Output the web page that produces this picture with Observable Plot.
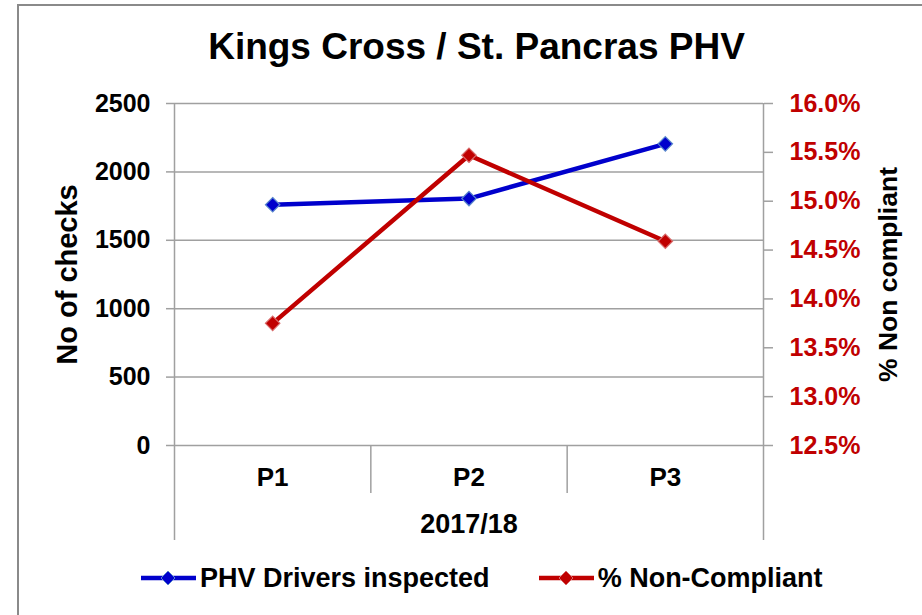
<!DOCTYPE html>
<html>
<head>
<meta charset="utf-8">
<script src="https://cdn.jsdelivr.net/npm/d3@7"></script>
<script src="https://cdn.jsdelivr.net/npm/@observablehq/plot@0.6"></script>
<style>
  html, body { margin: 0; padding: 0; background: #fff; }
  body { font-family: "Liberation Sans", Arial, sans-serif; }
  #wrap { position: relative; width: 922px; height: 615px; overflow: hidden; background: #fff; }
  #frame { position: absolute; left: 17px; top: 4px; width: 1000px; height: 700px;
           border-top: 2px solid #8a8a8a; border-left: 2px solid #8a8a8a; }
  #title { position: absolute; left: 0; width: 953px; top: 22px; text-align: center;
           font-weight: bold; font-size: 37px; line-height: 50px; color: #000; }
  #chart { position: absolute; left: 0; top: 80px; }
  #legend { position: absolute; left: 141px; top: 562px; display: flex; align-items: center; gap: 49px;
            font-weight: bold; font-size: 27px; line-height: 32px; color: #000; }
  #legend .item { display: flex; align-items: center; }
  #legend svg { margin-right: 4px; }
</style>
</head>
<body>
<div id="wrap">
  <div id="frame"></div>
  <div id="title"></div>
  <div id="chart"></div>
  <div id="legend"></div>
</div>
<script>
// ---- data ----
const titleText = "Kings Cross / St. Pancras PHV";
const categories = ["P1", "P2", "P3"];
const groupLabel = "2017/18";
const driversInspected = [1760, 1805, 2205];
const pctNonCompliant = [13.75, 15.47, 14.59];
const leftTicks = [0, 500, 1000, 1500, 2000, 2500];
const rightTicks = [12.5, 13.0, 13.5, 14.0, 14.5, 15.0, 15.5, 16.0];
const leftAxisTitle = "No of checks";
const rightAxisTitle = "% Non compliant";
const seriesNames = ["PHV Drivers inspected", "% Non-Compliant"];
const seriesColors = ["#0000cc", "#c00000"];
const markerEdge = ["#5a88cc", "#d86a6a"];

// ---- derived ----
const yMax = leftTicks[leftTicks.length - 1];
const pLo = rightTicks[0], pHi = rightTicks[rightTicks.length - 1];
const pToY = p => (p - pLo) / (pHi - pLo) * yMax;
const yToP = y => y / yMax * (pHi - pLo) + pLo;
const rows = categories.map((c, i) => ({c, i, drivers: driversInspected[i], pct: pctNonCompliant[i]}));
const bounds = d3.range(0, categories.length + 1);
const inner = bounds.slice(1, -1);
const outer = [bounds[0], bounds[bounds.length - 1]];
const gray = "#a0a0a0";

document.getElementById("title").textContent = titleText;

const chart = Plot.plot({
  width: 922,
  height: 465,
  marginTop: 23,
  marginBottom: 100,
  marginLeft: 174,
  marginRight: 159,
  style: {fontFamily: "'Liberation Sans', Arial, sans-serif", fontWeight: "bold", background: "transparent", overflow: "visible", color: "#000"},
  x: {type: "linear", domain: [bounds[0], bounds[bounds.length - 1]]},
  y: {domain: [0, yMax]},
  marks: [
    Plot.gridY(leftTicks, {stroke: gray, strokeOpacity: 1, strokeWidth: 1.5}),
    Plot.ruleX(outer, {stroke: gray, strokeWidth: 1.5, insetBottom: -95}),
    Plot.axisX(inner, {anchor: "bottom", tickSize: 48, tickFormat: () => "", stroke: gray, strokeWidth: 1.5, label: null}),
    Plot.axisX(categories.map((_, i) => i + 0.5), {anchor: "bottom", tickSize: 0, tickPadding: 22, fontSize: 26,
      tickFormat: d => categories[Math.floor(d)], fill: "#000", label: null}),
    Plot.axisY(leftTicks, {anchor: "left", tickSize: 8, tickPadding: 16, fontSize: 25, stroke: gray, strokeWidth: 1.5,
      fill: "#000", tickFormat: d => String(d), label: null}),
    Plot.axisY(rightTicks.map(pToY), {anchor: "right", tickSize: 9, tickPadding: 17, fontSize: 25, stroke: gray, strokeWidth: 1.5,
      fill: "#c00000", tickFormat: d => yToP(d).toFixed(1) + "%", label: null}),
    Plot.text([groupLabel], {frameAnchor: "bottom", lineAnchor: "middle", dy: 79, fontSize: 27, fill: "#000"}),
    Plot.text([leftAxisTitle], {frameAnchor: "left", textAnchor: "middle", dx: -107, rotate: -90, fontSize: 29, fill: "#000"}),
    Plot.text([rightAxisTitle], {frameAnchor: "right", textAnchor: "middle", dx: 125, rotate: -90, fontSize: 26.5, fill: "#000"}),
    Plot.line(rows, {x: d => d.i + 0.5, y: "drivers", stroke: seriesColors[0], strokeWidth: 4.5}),
    Plot.line(rows, {x: d => d.i + 0.5, y: d => pToY(d.pct), stroke: seriesColors[1], strokeWidth: 4.5}),
    Plot.dot(rows, {x: d => d.i + 0.5, y: "drivers", symbol: "diamond2", r: 6.5, fill: seriesColors[0], stroke: markerEdge[0], strokeWidth: 1.2}),
    Plot.dot(rows, {x: d => d.i + 0.5, y: d => pToY(d.pct), symbol: "diamond2", r: 6.5, fill: seriesColors[1], stroke: markerEdge[1], strokeWidth: 1.2})
  ]
});
document.getElementById("chart").appendChild(chart);

// legend
const legend = document.getElementById("legend");
seriesNames.forEach((name, k) => {
  const item = document.createElement("div");
  item.className = "item";
  item.innerHTML = `<svg width="55" height="20" viewBox="0 0 55 20">
      <line x1="0" x2="55" y1="10" y2="10" stroke="${seriesColors[k]}" stroke-width="4.5"/>
      <path d="M27,3 L34,10 L27,17 L20,10 Z" fill="${seriesColors[k]}" stroke="${markerEdge[k]}" stroke-width="1"/>
    </svg><span>${name}</span>`;
  legend.appendChild(item);
});
</script>
</body>
</html>
